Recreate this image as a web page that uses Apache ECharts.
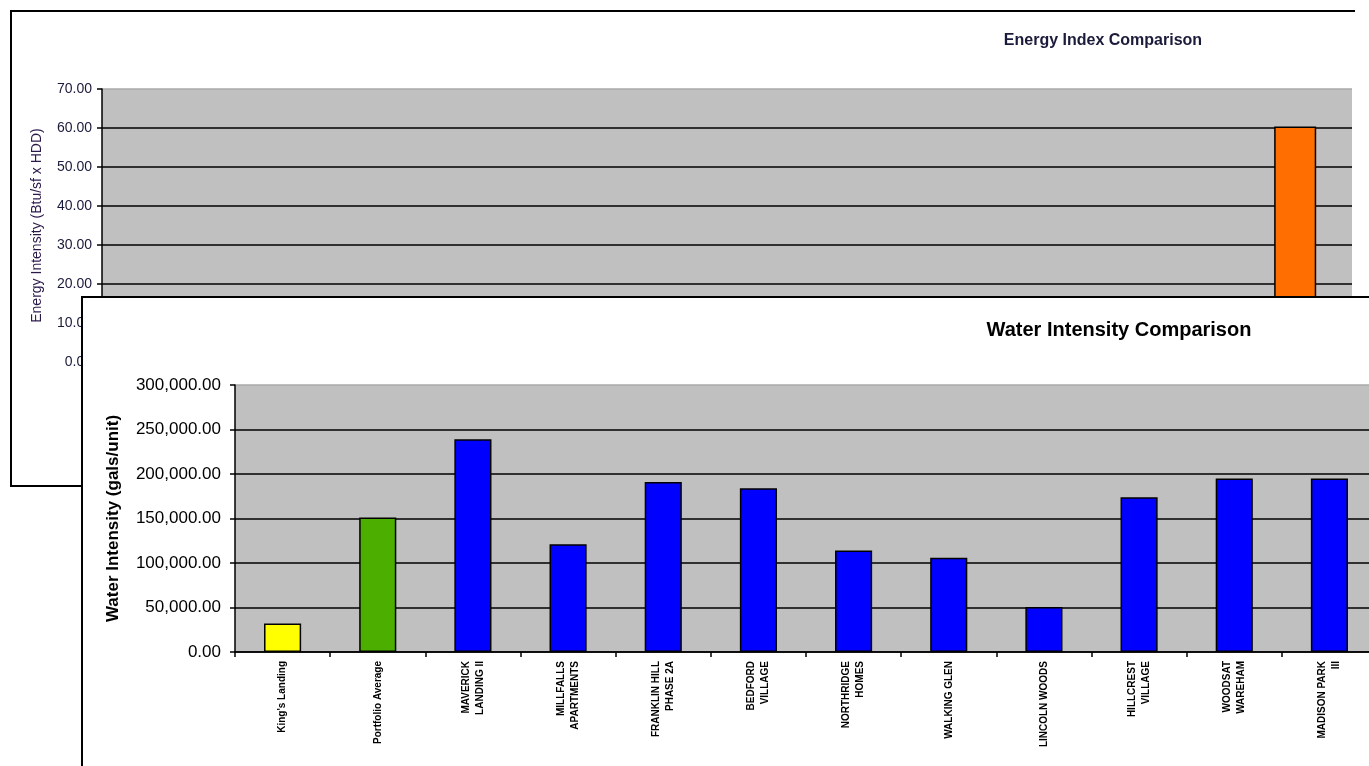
<!DOCTYPE html>
<html>
<head>
<meta charset="utf-8">
<script src="https://cdn.jsdelivr.net/npm/echarts@6/dist/echarts.min.js"></script>
<style>
  html, body { margin: 0; padding: 0; background: #fff; overflow: hidden; width: 1369px; height: 766px; }
  #energy { position: absolute; left: 10px; top: 10px; width: 1343px; height: 473px;
            border: 2px solid #000; border-right: none; background: #fff; z-index: 1; }
  #water { position: absolute; left: 81px; top: 296px; width: 1400px; height: 520px;
           border: 2px solid #000; background: #fff; z-index: 2; }
</style>
</head>
<body>
<div id="energy"></div>
<div id="water"></div>
<script>
// water chart data
var waterCategories = ["King's Landing", "Portfolio Average", "MAVERICK\nLANDING II", "MILLFALLS\nAPARTMENTS",
  "FRANKLIN HILL\nPHASE 2A", "BEDFORD\nVILLAGE", "NORTHRIDGE\nHOMES", "WALKING GLEN",
  "LINCOLN WOODS", "HILLCREST\nVILLAGE", "WOODSAT\nWAREHAM", "MADISON PARK\nIII"];
var waterValues = [32000, 151000, 239000, 121000, 191000, 184000, 114000, 106000, 50500, 174000, 195000, 195000];
var waterColors = ['#ffff00', '#4caf00', '#0000ff', '#0000ff', '#0000ff', '#0000ff', '#0000ff', '#0000ff',
  '#0000ff', '#0000ff', '#0000ff', '#0000ff'];

// energy chart data (only the last bar rises above the covering chart)
var energyCategories = ['1', '2', '3', '4', '5', '6', '7', '8', '9', '10', '11'];
var energyValues = [null, null, null, null, null, null, null, null, null, null, 60.4];

var FONT = 'Liberation Sans, Arial, sans-serif';

function fmt2(v) {
  return v.toFixed(2).replace(/\B(?=(\d{3})+(?!\d))/g, ',');
}

// energy index chart
var energyChart = echarts.init(document.getElementById('energy'));
energyChart.setOption({
  animation: false,
  textStyle: { fontFamily: FONT },
  graphic: [{
    type: 'text', x: 1091, y: 29,
    style: { text: 'Energy Index Comparison', fontSize: 16, fontWeight: 'bold', fill: '#1a1a3a',
             fontFamily: FONT, align: 'center', verticalAlign: 'middle' }
  }],
  grid: { left: 90, top: 77, width: 1250, height: 273, show: true, backgroundColor: '#c0c0c0', borderWidth: 0 },
  xAxis: {
    type: 'category', data: energyCategories,
    axisLine: { lineStyle: { color: '#000', width: 1.5 } },
    axisTick: { show: true, length: 5, lineStyle: { color: '#000' } },
    axisLabel: { show: false }
  },
  yAxis: {
    type: 'value', min: 0, max: 70, interval: 10,
    name: 'Energy Intensity (Btu/sf x HDD)', nameLocation: 'middle', nameGap: 58,
    nameTextStyle: { fontSize: 14, color: '#2a1a4a', fontFamily: FONT },
    axisLine: { show: true, lineStyle: { color: '#000', width: 1.5 } },
    axisTick: { show: true, length: 5, inside: false, lineStyle: { color: '#000', width: 1.5 } },
    axisLabel: { formatter: fmt2, fontSize: 14, color: '#1a1a3a', margin: 10, fontFamily: FONT },
    splitLine: { lineStyle: { color: ['#000', '#000', '#000', '#000', '#000', '#000', '#000', '#aaa'], width: 1.5 } }
  },
  series: [{
    type: 'bar', data: energyValues, barCategoryGap: '63%',
    itemStyle: { color: '#ff6e00', borderColor: '#000', borderWidth: 1.5 }
  }]
});

// water intensity chart
var waterData = waterValues.map(function (v, i) {
  return { value: v, itemStyle: { color: waterColors[i] } };
});
var waterChart = echarts.init(document.getElementById('water'));
waterChart.setOption({
  animation: false,
  textStyle: { fontFamily: FONT },
  graphic: [{
    type: 'text', x: 1036, y: 32,
    style: { text: 'Water Intensity Comparison', fontSize: 20, fontWeight: 'bold', fill: '#000',
             fontFamily: FONT, align: 'center', verticalAlign: 'middle' }
  }],
  grid: { left: 152, top: 87, width: 1142, height: 267, show: true, backgroundColor: '#c0c0c0', borderWidth: 0 },
  xAxis: {
    type: 'category', data: waterCategories,
    axisLine: { lineStyle: { color: '#000', width: 1.5 } },
    axisTick: { show: true, length: 5, lineStyle: { color: '#000', width: 1.5 } },
    axisLabel: { interval: 0, rotate: 90, fontSize: 10, fontWeight: 'bold', color: '#000',
                 lineHeight: 14, margin: 9, fontFamily: FONT }
  },
  yAxis: {
    type: 'value', min: 0, max: 300000, interval: 50000,
    name: 'Water Intensity (gals/unit)', nameLocation: 'middle', nameGap: 113,
    nameTextStyle: { fontSize: 17, fontWeight: 'bold', color: '#000', fontFamily: FONT },
    axisLine: { show: true, lineStyle: { color: '#000', width: 1.5 } },
    axisTick: { show: true, length: 5, lineStyle: { color: '#000', width: 1.5 } },
    axisLabel: { formatter: fmt2, fontSize: 17, color: '#000', margin: 14, fontFamily: FONT },
    splitLine: { lineStyle: { color: ['#000', '#000', '#000', '#000', '#000', '#000', '#aaa'], width: 1.5 } }
  },
  series: [{
    type: 'bar', data: waterData, barCategoryGap: '61%',
    itemStyle: { borderColor: '#000', borderWidth: 1.5 }
  }]
});
</script>
</body>
</html>
